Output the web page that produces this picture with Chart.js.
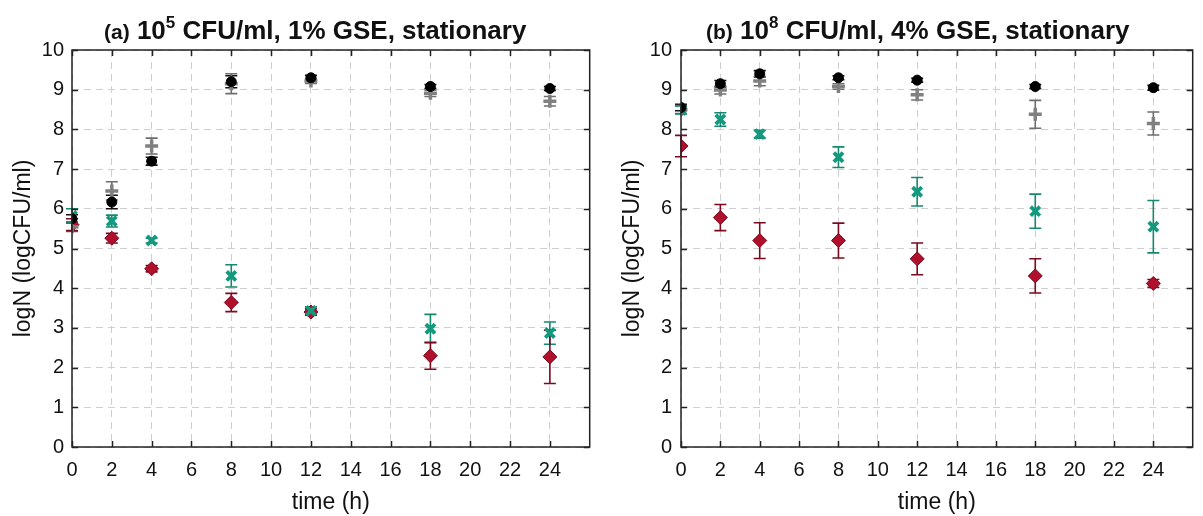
<!DOCTYPE html>
<html lang="en">
<head>
  <meta charset="UTF-8">
  <title>logN vs time</title>
  <script src="https://cdn.jsdelivr.net/npm/chart.js"></script>
  <style>
    body {
      margin: 0;
      width: 1203px;
      height: 516px;
      background: #fff;
      font-family: "Liberation Sans", Arial, sans-serif;
      position: relative;
      overflow: hidden;
    }
    .panel {
      position: absolute;
      top: 0;
      width: 600px;
      height: 516px;
    }
    .title {
      position: absolute;
      top: 10px;
      font-weight: bold;
      font-size: 26px;
      line-height: 28px;
      color: #111;
      white-space: nowrap;
    }
    .title .lab { font-size: 21px; }
    .title sup { font-size: 17px; position: relative; top: -1px; }
  </style>
</head>
<body>
  <div class="panel" style="left:0"><canvas id="chartA"></canvas></div>
  <div class="panel" style="left:603px"><canvas id="chartB"></canvas></div>
  <div class="title" style="left:104px"><span class="lab">(a)</span> 10<sup>5</sup> CFU/ml, 1% GSE, stationary</div>
  <div class="title" style="left:706px"><span class="lab">(b)</span> 10<sup>8</sup> CFU/ml, 4% GSE, stationary</div>

  <script>
    // sampling times (h)
    const times = [0, 2, 4, 8, 12, 18, 24];
    const xTicks = [0, 2, 4, 6, 8, 10, 12, 14, 16, 18, 20, 22, 24];

    // panel (a): 10^5 CFU/ml, 1% GSE
    const blackA = [5.75, 6.17, 7.2, 9.2, 9.3, 9.08, 9.03];
    const blackErrA = [0.1, 0.17, 0.1, 0.15, 0.06, 0.05, 0.05];
    const grayA = [5.55, 6.45, 7.58, 9.15, 9.22, 8.91, 8.71];
    const grayErrA = [0.12, 0.23, 0.2, 0.25, 0.06, 0.08, 0.12];
    const tealA = [5.82, 5.69, 5.2, 4.31, 3.43, 2.98, 2.87];
    const tealErrA = [0.18, 0.15, 0.06, 0.28, 0.1, 0.36, 0.28];
    const redA = [5.6, 5.26, 4.49, 3.64, 3.4, 2.3, 2.27];
    const redErrA = [0.15, 0.12, 0.08, 0.23, 0.08, 0.34, 0.67];

    // panel (b): 10^8 CFU/ml, 4% GSE
    const blackB = [8.55, 9.15, 9.4, 9.3, 9.24, 9.08, 9.05];
    const blackErrB = [0.08, 0.08, 0.08, 0.05, 0.05, 0.05, 0.06];
    const grayB = [8.5, 8.99, 9.22, 9.08, 8.87, 8.38, 8.15];
    const grayErrB = [0.1, 0.1, 0.12, 0.07, 0.13, 0.35, 0.29];
    const tealB = [8.49, 8.25, 7.88, 7.3, 6.43, 5.94, 5.55];
    const tealErrB = [0.1, 0.17, 0.1, 0.26, 0.36, 0.43, 0.66];
    const redB = [7.58, 5.78, 5.2, 5.2, 4.74, 4.31, 4.12];
    const redErrB = [0.27, 0.33, 0.45, 0.44, 0.4, 0.43, 0.1];

    const toPoints = vals => vals.map((v, i) => ({ x: times[i], y: v }));

    // error bars + MATLAB-style box with inward ticks
    const errorBars = {
      id: 'errorBars',
      beforeDatasetsDraw(chart) {
        const { ctx } = chart;
        const xs = chart.scales.x, ys = chart.scales.y;
        chart.data.datasets.forEach(ds => {
          ctx.save();
          ctx.strokeStyle = ds.barColor;
          ctx.lineWidth = 1.6;
          ds.data.forEach((p, i) => {
            const e = ds.errors[i];
            const px = xs.getPixelForValue(p.x);
            const top = ys.getPixelForValue(p.y + e);
            const bot = ys.getPixelForValue(p.y - e);
            ctx.beginPath();
            ctx.moveTo(px, top); ctx.lineTo(px, bot);
            ctx.moveTo(px - 6, top); ctx.lineTo(px + 6, top);
            ctx.moveTo(px - 6, bot); ctx.lineTo(px + 6, bot);
            ctx.stroke();
          });
          ctx.restore();
        });
      },
      afterDraw(chart) {
        const { ctx, chartArea: a } = chart;
        const xs = chart.scales.x, ys = chart.scales.y;
        ctx.save();
        ctx.strokeStyle = '#222';
        ctx.lineWidth = 1.5;
        ctx.strokeRect(a.left, a.top, a.right - a.left, a.bottom - a.top);
        ctx.beginPath();
        xTicks.forEach(t => {
          const px = Math.round(xs.getPixelForValue(t)) + 0.5;
          ctx.moveTo(px, a.bottom); ctx.lineTo(px, a.bottom - 6);
          ctx.moveTo(px, a.top); ctx.lineTo(px, a.top + 6);
        });
        for (let v = 0; v <= 10; v++) {
          const py = Math.round(ys.getPixelForValue(v)) + 0.5;
          ctx.moveTo(a.left, py); ctx.lineTo(a.left + 6, py);
          ctx.moveTo(a.right, py); ctx.lineTo(a.right - 6, py);
        }
        ctx.stroke();
        ctx.restore();
      }
    };

    function makeChart(id, black, blackErr, gray, grayErr, teal, tealErr, red, redErr, lay) {
      const tickFont = { family: '"Liberation Sans", Arial, sans-serif', size: 20 };
      const titleFont = { family: '"Liberation Sans", Arial, sans-serif', size: 23 };
      new Chart(document.getElementById(id), {
        type: 'scatter',
        data: {
          datasets: [
            {
              data: toPoints(black), errors: blackErr, barColor: '#111',
              pointStyle: 'circle', pointRadius: 5,
              backgroundColor: '#000', borderColor: '#000', borderWidth: 1
            },
            {
              data: toPoints(gray), errors: grayErr, barColor: '#6e6e6e',
              pointStyle: 'cross', pointRadius: 6.5,
              backgroundColor: '#808080', borderColor: '#808080', borderWidth: 3.5
            },
            {
              data: toPoints(teal), errors: tealErr, barColor: '#17876f',
              pointStyle: 'crossRot', pointRadius: 6.5,
              backgroundColor: '#139a7e', borderColor: '#139a7e', borderWidth: 3.8
            },
            {
              data: toPoints(red), errors: redErr, barColor: '#7a0b1e',
              pointStyle: 'rectRot', pointRadius: 7,
              backgroundColor: '#b0102c', borderColor: '#7a0b1e', borderWidth: 1
            }
          ]
        },
        options: {
          responsive: true,
          maintainAspectRatio: false,
          animation: false,
          events: [],
          layout: { padding: { top: 50, right: lay.right, left: 0, bottom: 0 } },
          plugins: { legend: { display: false }, tooltip: { enabled: false } },
          scales: {
            x: {
              type: 'linear', min: 0, max: 26,
              afterFit: s => { s.height = 69; s.paddingLeft = 0; s.paddingRight = 0; },
              ticks: {
                stepSize: 2, color: '#111', font: tickFont, padding: 11,
                maxRotation: 0, autoSkip: false,
                callback: v => (v <= 24 ? v : '')
              },
              grid: { color: '#cfcfcf', lineWidth: 1, drawTicks: false },
              border: { display: false, dash: [7, 5] },
              title: { display: true, text: 'time (h)', color: '#111', font: titleFont, padding: { top: 0, bottom: 0 } }
            },
            y: {
              min: 0, max: 10,
              afterFit: s => { s.width = lay.yWidth; },
              ticks: { stepSize: 1, color: '#111', font: tickFont, padding: lay.tickPad },
              grid: { color: '#cfcfcf', lineWidth: 1, drawTicks: false },
              border: { display: false, dash: [7, 5] },
              title: { display: true, text: 'logN (logCFU/ml)', color: '#111', font: titleFont, padding: { top: lay.titlePad, bottom: 0 } }
            }
          }
        },
        plugins: [errorBars]
      });
    }

    makeChart('chartA', blackA, blackErrA, grayA, grayErrA, tealA, tealErrA, redA, redErrA,
      { yWidth: 72, tickPad: 8, titlePad: 10, right: 3 });
    makeChart('chartB', blackB, blackErrB, grayB, grayErrB, tealB, tealErrB, redB, redErrB,
      { yWidth: 78, tickPad: 9, titlePad: 16, right: 1 });
  </script>
</body>
</html>
